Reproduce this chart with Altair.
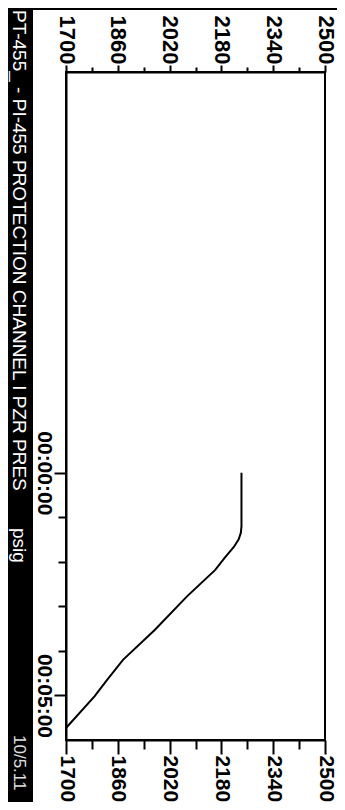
import altair as alt
import pandas as pd

# ---- data ----
time_min = [0.0, 1.2, 1.35, 1.5, 1.66, 1.91, 2.18, 2.78, 3.53, 4.2, 4.65, 5.02, 5.73]
pressure = [2242, 2242, 2240, 2233, 2219, 2190, 2161, 2073, 1974, 1876, 1827, 1788, 1700]

p_ticks = [1700, 1780, 1860, 1940, 2020, 2100, 2180, 2260, 2340, 2420, 2500]
p_major = [1700, 1860, 2020, 2180, 2340, 2500]
t_ticks = [0, 1, 2, 3, 4, 5]
t_major = [0, 5]
t_major_labels = ["00:00:00", "00:05:00"]

title_main = "PT-455_ - PI-455  PROTECTION CHANNEL I PZR PRES"
title_unit = "psig"
stamp = "10/5.11"

df = pd.DataFrame({"time": time_min, "pressure": pressure, "order": list(range(len(time_min)))})

FONT = "Liberation Sans"
W, H = 259, 668
PAD = {"left": 58, "top": 64, "right": 12, "bottom": 62}

p_major_test = f"indexof({p_major}, datum.value) >= 0"
p_label_expr = f"{p_major_test} ? datum.label : ''"

t_expr = "''"
for v, lab in reversed(list(zip(t_major, t_major_labels))):
    t_expr = f"datum.value == {v} ? '{lab}' : ({t_expr})"
t_major_test = f"indexof({t_major}, datum.value) >= 0"

x_scale = alt.Scale(domain=[1700, 2500], nice=False, zero=False)
y_scale = alt.Scale(domain=[-9, 6], reverse=True, nice=False, zero=False)

common_axis = dict(
    grid=False, domainColor="black", domainWidth=2, tickColor="black", tickWidth=2,
    labelColor="black", labelFont=FONT, labelFontWeight="bold", title=None,
    labelOverlap=False, labelFlush=False,
)

bottom_axis = alt.Axis(
    orient="bottom", values=p_ticks, format="d", labelExpr=p_label_expr,
    tickSize={"condition": {"test": p_major_test, "value": 14}, "value": 9},
    labelAngle=90, labelAlign="left", labelBaseline="middle", labelPadding=1,
    labelFontSize=21, **common_axis,
)
top_axis = alt.Axis(
    orient="top", values=p_ticks, format="d", labelExpr=p_label_expr,
    tickSize={"condition": {"test": p_major_test, "value": 7}, "value": 5},
    labelAngle=90, labelAlign="right", labelBaseline="middle", labelPadding=1,
    labelFontSize=22, **common_axis,
)
left_axis = alt.Axis(
    orient="left", values=t_ticks, labelExpr=t_expr,
    tickSize={"condition": {"test": t_major_test, "value": 12}, "value": 8},
    labelAngle=90, labelAlign="center", labelBaseline="top", labelPadding=0,
    labelFontSize=21, **common_axis,
)

one = pd.DataFrame({"k": [0]})

strip = alt.Chart(one).mark_rect(color="black").encode(
    x=alt.value(-PAD["left"]), x2=alt.value(-33), y=alt.value(-PAD["top"]), y2=alt.value(H + PAD["bottom"])
)
topband = alt.Chart(one).mark_rect(color="black").encode(
    x=alt.value(-PAD["left"]), x2=alt.value(W + PAD["right"]), y=alt.value(-PAD["top"]), y2=alt.value(-PAD["top"] + 2)
)

title1 = alt.Chart(pd.DataFrame({"t": [title_main]})).mark_text(
    angle=90, align="left", baseline="middle", font=FONT, fontSize=19, color="white"
).encode(text="t:N", x=alt.value(-47), y=alt.value(-62))
title2 = alt.Chart(pd.DataFrame({"t": [title_unit]})).mark_text(
    angle=90, align="left", baseline="middle", font=FONT, fontSize=19, color="white"
).encode(text="t:N", x=alt.value(-47), y=alt.value(456))
title3 = alt.Chart(pd.DataFrame({"t": [stamp]})).mark_text(
    angle=90, align="left", baseline="middle", font=FONT, fontSize=17, color="#e0e0e0"
).encode(text="t:N", x=alt.value(-47), y=alt.value(663))

line = alt.Chart(df).mark_line(color="black", strokeWidth=2).encode(
    x=alt.X("pressure:Q", scale=x_scale, axis=bottom_axis),
    y=alt.Y("time:Q", scale=y_scale, axis=left_axis),
    order=alt.Order("order:Q"),
)
top_layer = alt.Chart(df).mark_point(opacity=0).encode(
    x=alt.X("pressure:Q", scale=x_scale, axis=top_axis),
    y=alt.Y("time:Q", scale=y_scale, axis=left_axis),
)

chart = alt.layer(strip, topband, title1, title2, title3, line, top_layer).resolve_axis(
    x="independent"
).properties(
    width=W, height=H,
    autosize=alt.AutoSizeParams(type="none"),
    padding=PAD,
    background="white",
).configure_view(stroke="black", strokeWidth=2)

chart.save("out.html", embed_options={"renderer": "svg", "actions": False})
